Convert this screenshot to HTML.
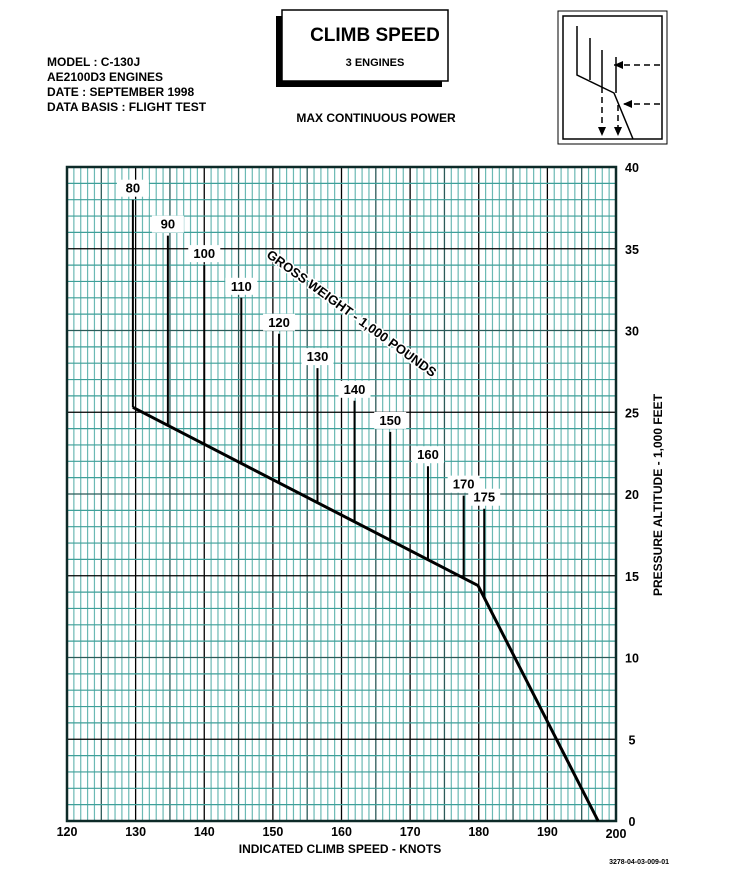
<!DOCTYPE html>
<html><head><meta charset="utf-8"><style>
body{margin:0;background:#fff;width:742px;height:889px;overflow:hidden;font-family:"Liberation Sans",Arial,sans-serif}
svg text{font-family:"Liberation Sans",Arial,sans-serif;font-weight:bold;fill:#000}
</style></head><body>
<svg id="c" width="742" height="889">
<g>
<text x="47" y="66" font-size="12">MODEL : C-130J</text>
<text x="47" y="81" font-size="12">AE2100D3  ENGINES</text>
<text x="47" y="96" font-size="12">DATE : SEPTEMBER 1998</text>
<text x="47" y="111" font-size="12">DATA BASIS : FLIGHT TEST</text>
</g>
<g>
<rect x="276" y="16" width="166" height="71" fill="#000"/>
<rect x="282" y="10" width="166" height="71" fill="#fff" stroke="#000" stroke-width="1.5"/>
<text x="375" y="41" font-size="19" text-anchor="middle">CLIMB SPEED</text>
<text x="375" y="66" font-size="11" text-anchor="middle">3 ENGINES</text>
</g>
<text x="376" y="122" font-size="12" text-anchor="middle">MAX CONTINUOUS POWER</text>
<g fill="none" stroke="#000">
<rect x="558" y="11" width="109" height="133" stroke-width="1"/>
<rect x="563" y="16" width="99" height="123" stroke-width="1.5"/>
<path d="M577 26V75L614 93L633 139M590 38V80M602 50V87M616 57V93" stroke-width="1.5"/>
<path d="M660 65H614M660 104H624M602 87V130M618 105V130" stroke-width="1.5" stroke-dasharray="6,4"/>
<path d="M614 65l9-4v8zM623 104l9-4v8zM602 136l-4-9h8zM618 136l-4-9h8z" fill="#000" stroke="none"/>
</g>
<g id="grid"></g>
<g id="marks"></g>
<text x="0" y="0" font-size="13" transform="translate(349,317) rotate(36)" text-anchor="middle" stroke="#fff" stroke-width="3" paint-order="stroke">GROSS WEIGHT - 1,000 POUNDS</text>
<text x="340" y="853" font-size="12" text-anchor="middle">INDICATED CLIMB SPEED - KNOTS</text>
<text transform="translate(662,495) rotate(-90)" font-size="12" text-anchor="middle">PRESSURE ALTITUDE - 1,000 FEET</text>
<text x="669" y="864" font-size="7" text-anchor="end">3278-04-03-009-01</text>
</svg>
<script>
const weights=[80,90,100,110,120,130,140,150,160,170,175];
const weightSpeeds=[129.6,134.7,140,145.4,150.9,156.5,161.9,167.1,172.6,177.8,180.8];
const weightTops=[38,35.8,34,32,29.8,27.7,25.7,23.8,21.7,19.9,19.1];
const curveSpeeds=[129.6,179.9,197.4];
const curveAlts=[25.3,14.4,0];
const xTicks=[120,130,140,150,160,170,180,190,200];
const yTicks=[0,5,10,15,20,25,30,35,40];
const X0=67,X1=616,Y0=821,Y1=167;
const sx=v=>X0+(v-120)/80*(X1-X0);
const sy=v=>Y0-v/40*(Y0-Y1);
const NS="http://www.w3.org/2000/svg";
function mk(p,t,a){const e=document.createElementNS(NS,t);for(const k in a)e.setAttribute(k,a[k]);p.appendChild(e);return e;}
const g=document.getElementById('grid'),m=document.getElementById('marks'),svg=document.getElementById('c');
mk(g,'rect',{x:X0,y:Y1,width:X1-X0,height:Y0-Y1,fill:'#fff'});
for(let k=120;k<=200;k++){const c=k%10==0?'#000':k%5==0?'#2b5a58':'#6bb9b4';
 mk(g,'line',{x1:sx(k),x2:sx(k),y1:Y1,y2:Y0,stroke:c,'stroke-width':k%5==0?1.3:1.2});}
for(let a=0;a<=40;a++){const c=a%5==0?(a%10==0?'#2b5a58':'#000'):'#3f9f99';
 mk(g,'line',{x1:X0,x2:X1,y1:sy(a),y2:sy(a),stroke:c,'stroke-width':a%5==0?1.3:1.2});}
mk(g,'rect',{x:X0,y:Y1,width:X1-X0,height:Y0-Y1,fill:'none',stroke:'#0d2a28','stroke-width':2.5});
xTicks.forEach(v=>{const t=mk(svg,'text',{x:sx(v),y:v==200?838:836,'font-size':12.5,'text-anchor':'middle'});t.textContent=v;

});
yTicks.forEach(v=>{const t=mk(svg,'text',{x:632,y:sy(v)+5,'font-size':12.5,'text-anchor':'middle'});t.textContent=v;

});
function curveAlt(s){for(let i=0;i<curveSpeeds.length-1;i++){if(s<=curveSpeeds[i+1]){const f=(s-curveSpeeds[i])/(curveSpeeds[i+1]-curveSpeeds[i]);return curveAlts[i]+f*(curveAlts[i+1]-curveAlts[i]);}}return 0;}
weights.forEach((w,i)=>{const x=sx(weightSpeeds[i]);
 const l=mk(m,'line',{x1:x,x2:x,y1:sy(curveAlt(weightSpeeds[i])),y2:sy(weightTops[i]),stroke:'#000','stroke-width':2});
 
 
 const ty=sy(weightTops[i])-7;
 mk(m,'rect',{x:x-16,y:ty-13,width:32,height:17,fill:'#fff'});
 const t=mk(m,'text',{x:x,y:ty,'font-size':13,'text-anchor':'middle'});t.textContent=w;
 
 });
const p=mk(m,'polyline',{points:curveSpeeds.map((s,i)=>sx(s)+','+sy(curveAlts[i])).join(' '),fill:'none',stroke:'#000','stroke-width':3});


</script>
</body></html>
